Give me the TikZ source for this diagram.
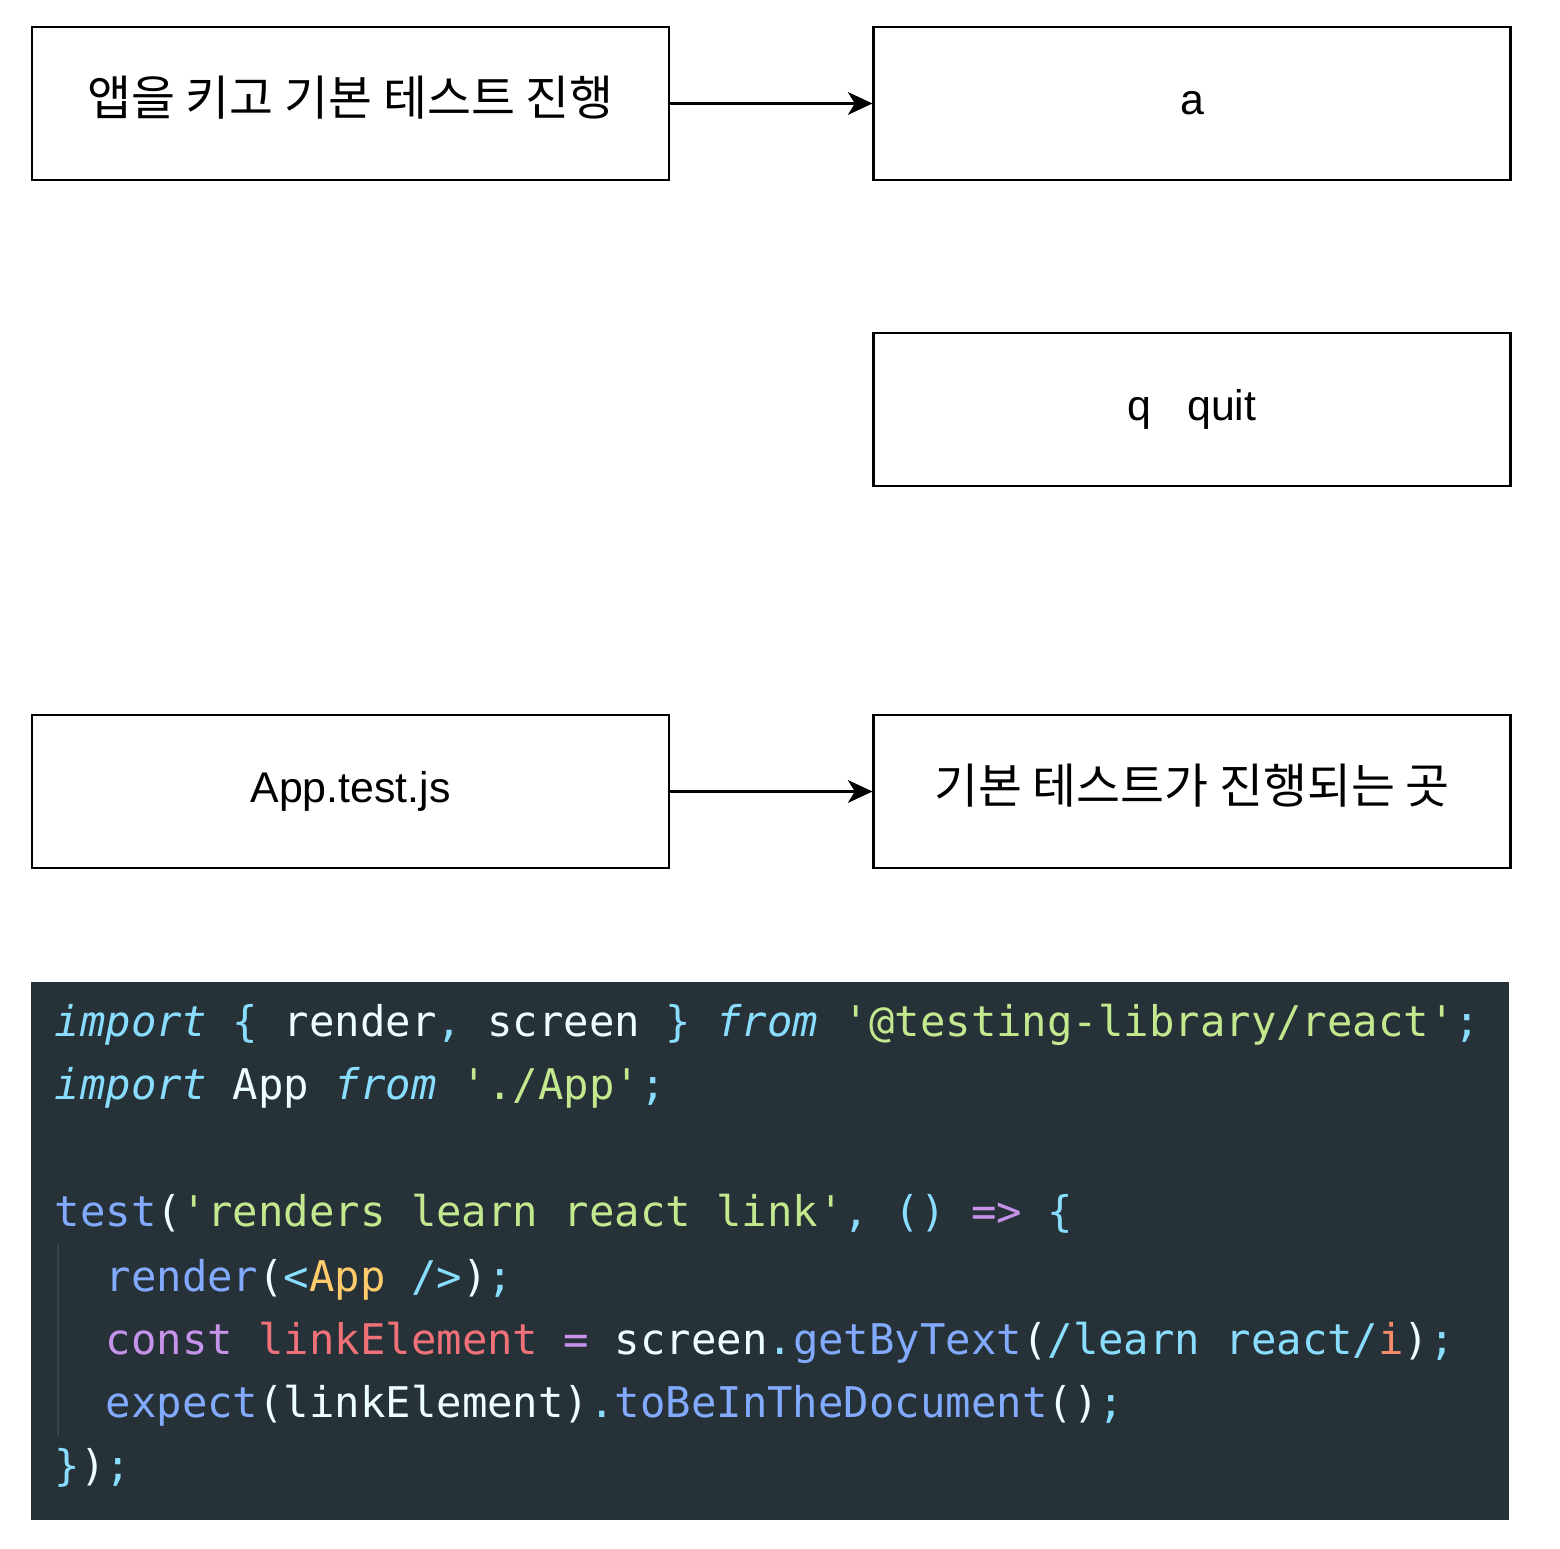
\documentclass[tikz,border=0pt]{standalone}
\usepackage{fontspec}
\usetikzlibrary{arrows.meta}
\newfontfamily\labelfont{Liberation Sans}
\newfontfamily\krfont{Noto Sans CJK KR}
\newfontfamily\codefont[Ligatures=TeXOff]{DejaVu Sans Mono}
\definecolor{codebg}{HTML}{263238}
\definecolor{guide}{HTML}{37474F}
\definecolor{cy}{HTML}{89DDFF}
\definecolor{wh}{HTML}{EEFFFF}
\definecolor{gr}{HTML}{C3E88D}
\definecolor{bl}{HTML}{82AAFF}
\definecolor{pu}{HTML}{C792EA}
\definecolor{rd}{HTML}{F07178}
\definecolor{ye}{HTML}{FFCB6B}
\definecolor{or}{HTML}{F78C6C}
\newcommand{\tok}[2]{\textcolor{#1}{#2}}
\newcommand{\lift}[1]{\raisebox{0.055cm}[\height][\depth]{#1}}

\begin{document}
\begin{tikzpicture}[
  box/.style={draw, line width=0.6pt, minimum width=6.37cm, minimum height=1.53cm, inner sep=0pt, font=\labelfont\fontsize{12.2pt}{14pt}\selectfont},
  kr/.style={font=\krfont\fontsize{13.6pt}{16pt}\selectfont},
  link/.style={-{Stealth[length=7pt, width=6.5pt, inset=2pt]}, line width=0.6pt},
  code/.style={anchor=base west, inner sep=0pt, font=\codefont\fontsize{12.03pt}{14pt}\selectfont}
]
  \useasboundingbox (0, 0) rectangle (15.6, 15.48);

  % key boxes
  \node[box, kr] (launch) at (3.505, 14.445) {\lift{앱을 키고 기본 테스트 진행}};
  \node[box] (keyA) at (11.92, 14.445) {a};
  \node[box] (keyQ) at (11.92, 11.385) {q~~~quit};
  \node[box] (testfile) at (3.505, 7.565) {App.test.js};
  \node[box, kr] (testplace) at (11.92, 7.565) {\lift{기본 테스트가 진행되는 곳}};

  \draw[link] (launch) -- (keyA);
  \draw[link] (testfile) -- (testplace);

  % code screenshot
  \fill[codebg] (0.31, 0.28) rectangle (15.09, 5.66);
  \draw[guide, line width=0.8pt] (0.58, 3.03) -- (0.58, 1.13);

  \node[code] (line1) at (0.54, 5.11) {\tok{cy}{\itshape import} \tok{cy}{\{} \tok{wh}{render}\tok{cy}{,} \tok{wh}{screen} \tok{cy}{\}} \tok{cy}{\itshape from} \tok{gr}{'@testing-library/react'}\tok{cy}{;}};
  \node[code] (line2) at (0.54, 4.48) {\tok{cy}{\itshape import} \tok{wh}{App} \tok{cy}{\itshape from} \tok{gr}{'./App'}\tok{cy}{;}};
  \node[code] (line4) at (0.54, 3.21) {\tok{bl}{test}\tok{wh}{(}\tok{gr}{'renders learn react link'}\tok{cy}{,} \tok{cy}{()} \tok{pu}{=>} \tok{cy}{\{}};
  \node[code] (line5) at (1.05, 2.57) {\tok{bl}{render}\tok{wh}{(}\tok{cy}{<}\tok{ye}{App} \tok{cy}{/>}\tok{wh}{)}\tok{cy}{;}};
  \node[code] (line6) at (1.05, 1.94) {\tok{pu}{const} \tok{rd}{linkElement} \tok{pu}{=} \tok{wh}{screen}\tok{cy}{.}\tok{bl}{getByText}\tok{wh}{(}\tok{cy}{/learn react/}\tok{or}{i}\tok{wh}{)}\tok{cy}{;}};
  \node[code] (line7) at (1.05, 1.31) {\tok{bl}{expect}\tok{wh}{(linkElement)}\tok{cy}{.}\tok{bl}{toBeInTheDocument}\tok{wh}{()}\tok{cy}{;}};
  \node[code] (line8) at (0.54, 0.68) {\tok{cy}{\}}\tok{wh}{)}\tok{cy}{;}};
\end{tikzpicture}
\end{document}
